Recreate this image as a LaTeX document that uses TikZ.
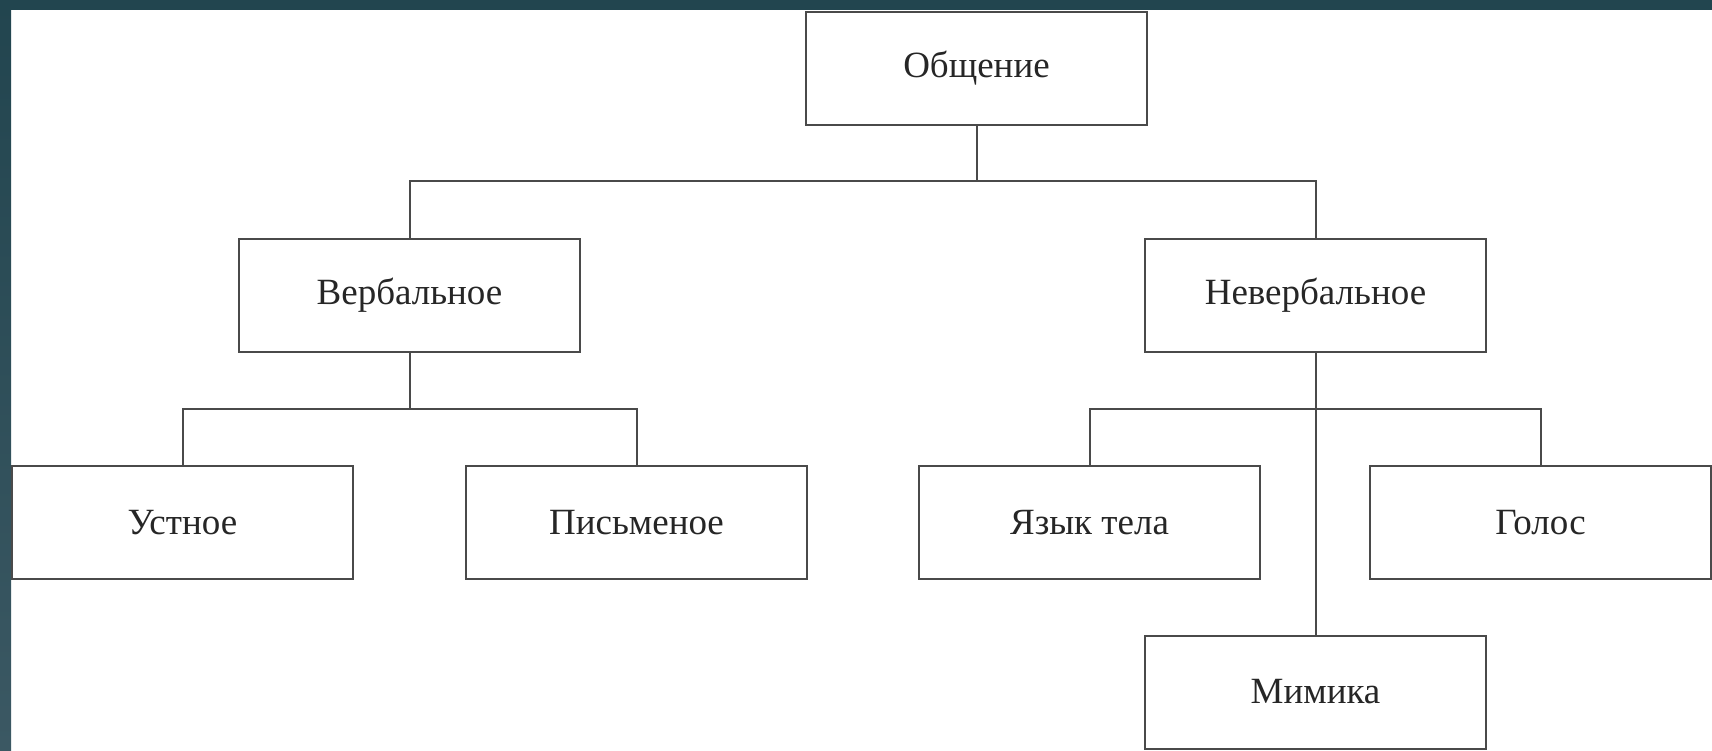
\documentclass[tikz,border=0pt]{standalone}
\usepackage{fontspec}
\setmainfont{Liberation Serif}
\definecolor{tealdark}{HTML}{22454F}
\definecolor{teallight}{HTML}{3B5863}
\definecolor{linegray}{HTML}{4A4A4A}
\begin{document}
\begin{tikzpicture}[x=1pt,y=-1pt,
  box/.style={draw=linegray, line width=2pt, fill=white, minimum width=341pt, minimum height=113pt, inner sep=0pt, font=\fontsize{37}{40}\selectfont, text=black!85},
  conn/.style={draw=linegray, line width=2pt}]
\useasboundingbox (0,0) rectangle (1712,750);
\fill[white] (0,0) rectangle (1712,750);
\shade[top color=tealdark, bottom color=teallight] (0,0) rectangle (11,750);
\fill[tealdark] (0,0) rectangle (1712,10);
\node[box] (obsh) at (976.5,68) {Общение};
\node[box] (verb) at (409.5,295.5) {Вербальное};
\node[box] (nverb) at (1315.5,295.5) {Невербальное};
\node[box] (ustn) at (182.5,522.5) {Устное};
\node[box] (pism) at (636.5,522.5) {Письменое};
\node[box] (yaz) at (1089.5,522.5) {Язык тела};
\node[box] (golos) at (1540.5,522.5) {Голос};
\node[box] (mim) at (1315.5,692) {Мимика};
\coordinate (j1) at (976.5,181);
\coordinate (j2) at (409.5,409);
\draw[conn] (obsh.south) -- (j1);
\draw[conn] (j1) -| (verb.north);
\draw[conn] (j1) -| (nverb.north);
\draw[conn] (verb.south) -- (j2);
\draw[conn] (j2) -| (ustn.north);
\draw[conn] (j2) -| (pism.north);
\draw[conn] (nverb.south) -- (mim.north);
\draw[conn] (yaz.north) |- (1315.5,409) -| (golos.north);
\end{tikzpicture}
\end{document}
